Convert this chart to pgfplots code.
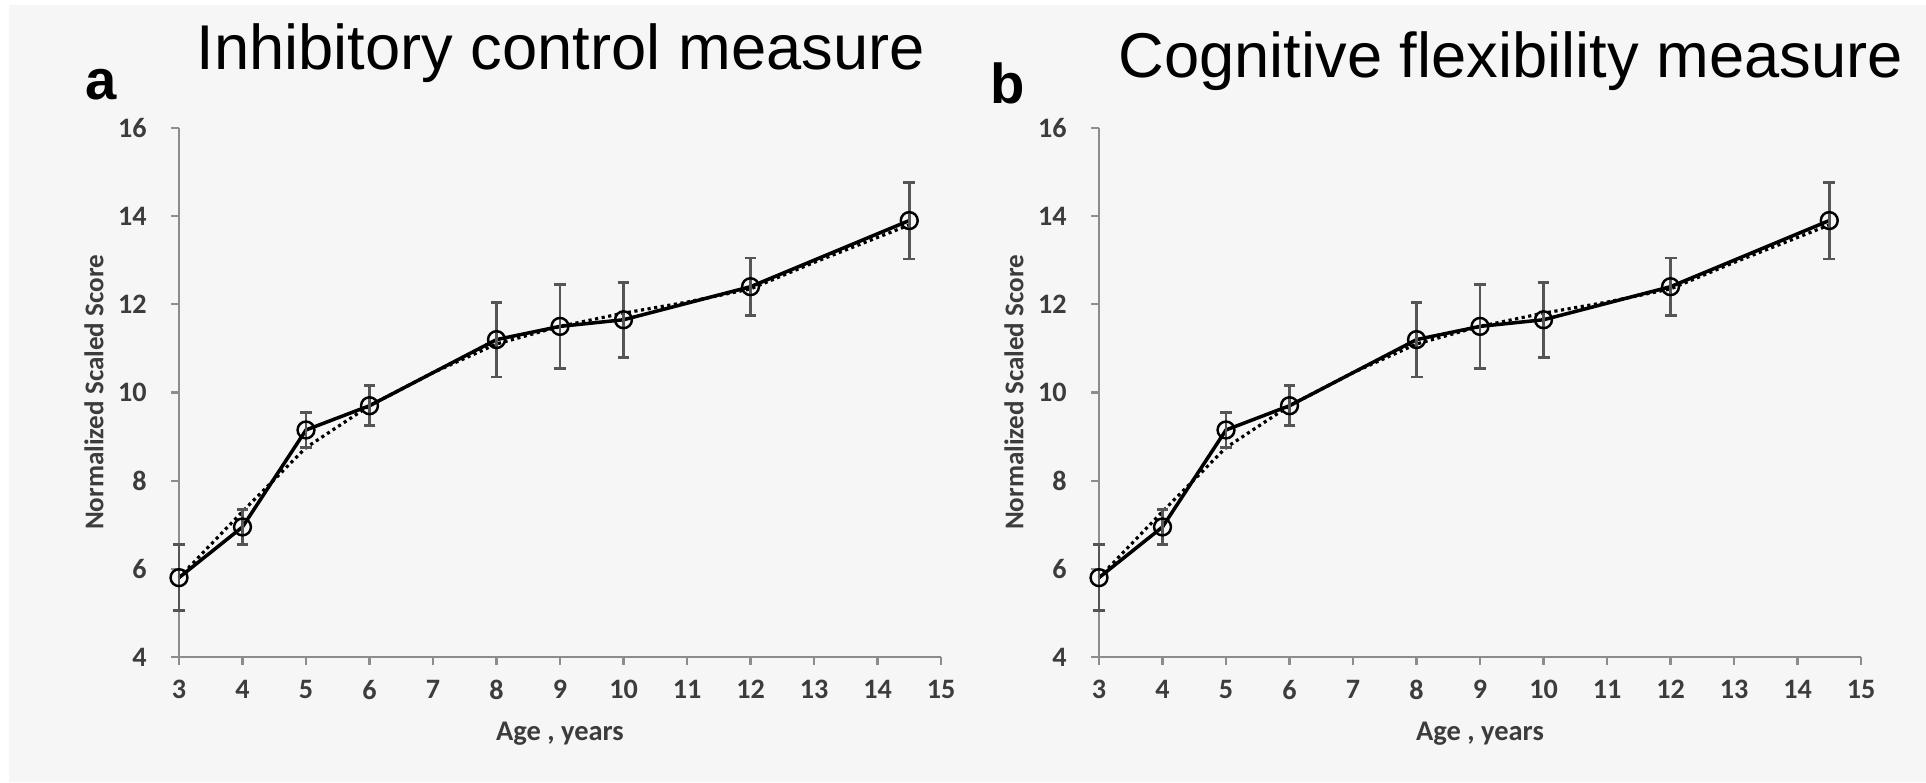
\documentclass[border=0pt]{standalone}
\usepackage{fontspec}
\setmainfont{Carlito}
\newfontfamily\titlefont{Liberation Sans}
\usepackage{pgfplots}
\usepackage{pgfplotstable}
\pgfplotsset{compat=1.18}

\definecolor{bg}{HTML}{F6F6F6}
\definecolor{axgray}{HTML}{8C8C8C}
\definecolor{lblgray}{HTML}{3C3C3C}
\definecolor{errgray}{HTML}{555555}

% mean score by age, with error
\pgfplotstableread{
x y e
3 5.8 0.75
4 6.95 0.4
5 9.15 0.4
6 9.7 0.45
8 11.2 0.85
9 11.5 0.95
10 11.65 0.85
12 12.4 0.65
14.5 13.9 0.87
}\scores

% dotted trend
\pgfplotstableread{
x y
3 5.8
4 7.3
5 8.75
6 9.7
7 10.45
8 11.1
9 11.5
10 11.8
11 12.05
12 12.35
13 12.95
14.5 13.8
}\trend

\pgfplotsset{
panel/.style={
  scale only axis,
  width=76.2mm, height=52.9mm,
  axis lines=left,
  axis line style={-, draw=axgray, line width=0.6pt},
  xmin=3, xmax=15, ymin=4, ymax=16,
  xtick={3,...,15}, ytick={4,6,...,16},
  tick align=outside,
  major tick length=0.8mm,
  tick style={draw=axgray, line width=0.6pt},
  /pgf/number format/assume math mode=true,
  ticklabel style={font=\bfseries\fontsize{8}{9}\selectfont, text=lblgray},
  yticklabel style={anchor=east, xshift=-1.2mm},
  xticklabel style={anchor=north, yshift=-0.3mm},
  every axis y label/.style={at={(axis description cs:0,0.5)}, xshift=-8.5mm, rotate=90, anchor=center,
    font=\bfseries\fontsize{7.7}{9}\selectfont, text=lblgray},
  every axis x label/.style={at={(axis description cs:0.5,0)}, yshift=-7.7mm, anchor=center,
    font=\bfseries\fontsize{8.1}{9}\selectfont, text=lblgray},
  xlabel={Age , years},
  ylabel={Normalized Scaled Score},
  clip=false,
}}

\begin{document}
\begin{tikzpicture}
\fill[white] (0,0) rectangle (192.6mm,78.2mm);
\fill[bg] (0.9mm,0) rectangle (192.6mm,77.7mm);

\node[anchor=base west, inner sep=0] at (19.6mm,71.2mm) {\titlefont\fontsize{18}{20}\selectfont Inhibitory control measure};
\node[anchor=base west, inner sep=0] at (111.8mm,70.4mm) {\titlefont\fontsize{18}{20}\selectfont Cognitive flexibility measure};
\node[anchor=base west, inner sep=0] at (8.5mm,68.2mm) {\titlefont\bfseries\fontsize{16}{18}\selectfont a};
\node[anchor=base west, inner sep=0] at (99.0mm,67.8mm) {\titlefont\bfseries\fontsize{16}{18}\selectfont b};

\begin{axis}[panel, at={(17.9mm,12.5mm)}, anchor=south west]
\addplot[black, densely dotted, line width=0.9pt] table[x=x,y=y] {\trend};
\addplot[black, line width=1pt, mark=o, mark size=2.4pt, mark options={line width=0.7pt},
  error bars/.cd, y dir=both, y explicit,
  error bar style={draw=errgray, line width=0.8pt},
  error mark options={rotate=90, mark size=1.7pt, draw=errgray, line width=0.8pt}]
  table[x=x,y=y,y error=e] {\scores};
\end{axis}

\begin{axis}[panel, at={(109.9mm,12.5mm)}, anchor=south west]
\addplot[black, densely dotted, line width=0.9pt] table[x=x,y=y] {\trend};
\addplot[black, line width=1pt, mark=o, mark size=2.4pt, mark options={line width=0.7pt},
  error bars/.cd, y dir=both, y explicit,
  error bar style={draw=errgray, line width=0.8pt},
  error mark options={rotate=90, mark size=1.7pt, draw=errgray, line width=0.8pt}]
  table[x=x,y=y,y error=e] {\scores};
\end{axis}
\end{tikzpicture}
\end{document}
